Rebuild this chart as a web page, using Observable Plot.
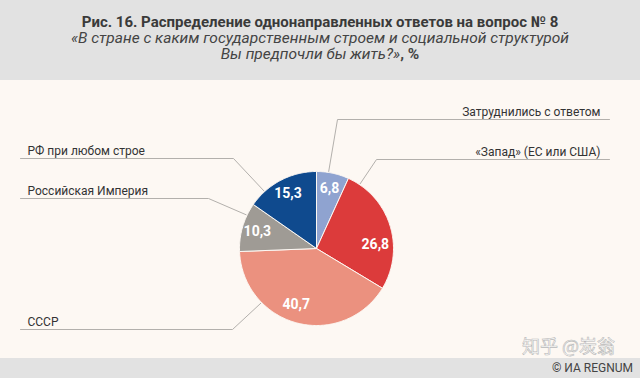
<!DOCTYPE html>
<html>
<head>
<meta charset="utf-8">
<script src="https://cdn.jsdelivr.net/npm/d3@7"></script>
<script src="https://cdn.jsdelivr.net/npm/@observablehq/plot@0.6"></script>
<style>
  html, body { margin: 0; padding: 0; }
  body { width: 640px; height: 378px; overflow: hidden; position: relative; font-family: Roboto, "Noto Sans", sans-serif; background: #e2e2e2; }
  #head { height: 80px; background: #e2e2e2; color: #333; text-align: center; box-sizing: border-box; padding-top: 14px; }
  #head div { line-height: 16px; font-size: 15px; white-space: nowrap; }
  #head .t { font-weight: bold; color: #3a3a3a; }
  #head .s { font-style: italic; color: #444; font-size: 15.5px; }
  #chart { height: 278px; background: #fdf8f3; }
  #chart svg { display: block; }
  #foot { height: 20px; background: #e2e2e2; color: #444; font-size: 12px; line-height: 20px; text-align: right; padding-right: 7px; }
  #wm { position: absolute; left: 522px; top: 335px; line-height: 20px; font-family: "Noto Sans CJK SC", sans-serif; font-size: 18px; color: rgba(255,255,255,0.9); -webkit-text-stroke: 0.6px #b8b8b8; white-space: nowrap; }
</style>
</head>
<body>
<div id="head">
  <div class="t">Рис. 16. Распределение однонаправленных ответов на вопрос № 8</div>
  <div class="s">«В стране с каким государственным строем и социальной структурой</div>
  <div class="s">Вы предпочли бы жить?»<b style="font-style:normal">, %</b></div>
</div>
<div id="chart"></div>
<div id="foot">© ИА REGNUM</div>
<div id="wm">知乎 @炭翁</div>
<script>
// ---- data ----
const categories = ["Затруднились с ответом", "«Запад» (ЕС или США)", "СССР", "Российская Империя", "РФ при любом строе"];
const values = [6.8, 26.8, 40.7, 10.3, 15.3];
const valueLabels = ["6,8", "26,8", "40,7", "10,3", "15,3"];
const colors = ["#8fa3d0", "#dc3b3b", "#eb917f", "#9f9b95", "#0f4a8e"];

// ---- layout ----
const W = 640, H = 278;
const pie = {cx: 316, cy: 168, r: 77, labelR: 0.8};
const labelNudge = [[0, 0], [0, 14], [-5, -4], [0, 0], [0, 0]];
// leader: anchor angle on rim (deg, clockwise from top), elbow x, line y, far end x, side
const leaders = [
  {angle: 9,     ex: 337, y: 39,  x2: 609, side: "right"},
  {angle: 34,    ex: 376, y: 79,  x2: 609, side: "right"},
  {angle: 225.5, ex: 232, y: 249, x2: 20,  side: "left"},
  {angle: 295.6, ex: 208, y: 118, x2: 20,  side: "left"},
  {angle: 317.6, ex: 233, y: 78,  x2: 20,  side: "left"}
];

const total = d3.sum(values);
const rad = a => a * Math.PI / 180;
const px = (a, r) => pie.cx + r * Math.sin(rad(a));
const py = (a, r) => pie.cy - r * Math.cos(rad(a));

// slice polygons
const slices = [];
const labels = [];
let acc = 0;
categories.forEach((c, i) => {
  const a0 = acc / total * 360, a1 = (acc + values[i]) / total * 360;
  acc += values[i];
  slices.push({cat: c, x: pie.cx, y: pie.cy});
  const n = Math.max(2, Math.ceil(a1 - a0));
  for (let k = 0; k <= n; k++) {
    const a = a0 + (a1 - a0) * k / n;
    slices.push({cat: c, x: px(a, pie.r), y: py(a, pie.r)});
  }
  slices.push({cat: c, x: pie.cx, y: pie.cy});
  const am = (a0 + a1) / 2;
  labels.push({cat: c, text: valueLabels[i], x: px(am, pie.r * pie.labelR) + labelNudge[i][0], y: py(am, pie.r * pie.labelR) + labelNudge[i][1]});
});

// leader lines
const leaderPts = [];
const leaderText = [];
categories.forEach((c, i) => {
  const L = leaders[i];
  leaderPts.push({cat: c, x: px(L.angle, pie.r + 1), y: py(L.angle, pie.r + 1)});
  leaderPts.push({cat: c, x: L.ex, y: L.y});
  leaderPts.push({cat: c, x: L.x2, y: L.y});
  leaderText.push({cat: c, side: L.side, x: L.side === "left" ? L.x2 + 7 : L.x2 - 9, y: L.y - 4});
});

const chart = Plot.plot({
  width: W, height: H,
  margin: 0,
  style: {background: "#fdf8f3", fontFamily: "Roboto, 'Noto Sans', sans-serif"},
  x: {domain: [0, W], range: [0, W], axis: null},
  y: {domain: [0, H], range: [0, H], axis: null},
  color: {domain: categories, range: colors},
  marks: [
    Plot.line(leaderPts, {x: "x", y: "y", z: "cat", stroke: "#b3b0ac", strokeWidth: 1}),
    Plot.line(slices, {x: "x", y: "y", z: "cat", fill: "cat", stroke: "#fdf8f3", strokeWidth: 1, strokeLinejoin: "round"}),
    Plot.text(labels, {x: "x", y: "y", text: "text", fill: "white", fontSize: 14, fontWeight: "bold", textAnchor: "middle"}),
    Plot.text(leaderText.filter(d => d.side === "left"), {x: "x", y: "y", text: "cat", textAnchor: "start", lineAnchor: "bottom", fontSize: 12, fill: "#333"}),
    Plot.text(leaderText.filter(d => d.side === "right"), {x: "x", y: "y", text: "cat", textAnchor: "end", lineAnchor: "bottom", fontSize: 12, fill: "#333"})
  ]
});
document.getElementById("chart").appendChild(chart);
</script>
</body>
</html>
